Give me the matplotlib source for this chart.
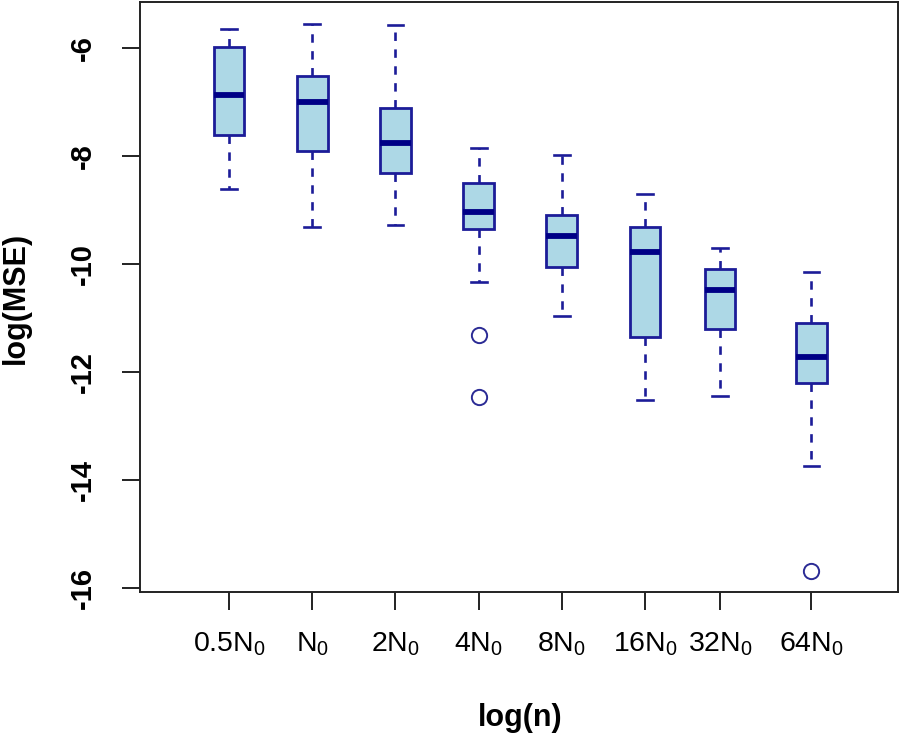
import matplotlib
matplotlib.use("Agg")
import matplotlib.pyplot as plt

plt.rcParams['font.family'] = ['Liberation Sans', 'DejaVu Sans']
plt.rcParams['mathtext.fontset'] = 'custom'
plt.rcParams['mathtext.rm'] = 'Liberation Sans'
plt.rcParams['mathtext.it'] = 'Liberation Sans'

labels = [r'0.5N$_0$', r'N$_0$', r'2N$_0$', r'4N$_0$', r'8N$_0$', r'16N$_0$', r'32N$_0$', r'64N$_0$']
positions = [1, 2, 3, 4, 5, 6, 6.9, 8]
whislo = [-8.60, -9.30, -9.27, -10.33, -10.96, -12.51, -12.44, -13.73]
q1 = [-7.61, -7.90, -8.30, -9.35, -10.04, -11.35, -11.19, -12.20]
med = [-6.86, -7.00, -7.76, -9.03, -9.47, -9.77, -10.48, -11.71]
q3 = [-5.98, -6.52, -7.11, -8.49, -9.09, -9.31, -10.09, -11.08]
whishi = [-5.64, -5.54, -5.56, -7.84, -7.98, -8.70, -9.70, -10.15]
fliers = [[], [], [], [-11.30, -12.46], [], [], [], [-15.68]]
yticks = [-6, -8, -10, -12, -14, -16]

stats = []
for i in range(len(labels)):
    stats.append(dict(label=labels[i], whislo=whislo[i], q1=q1[i], med=med[i],
                      q3=q3[i], whishi=whishi[i], fliers=fliers[i]))

fig = plt.figure(figsize=(9, 7.39), dpi=100)
ax = fig.add_axes([140/900, 1-592/739, (898-140)/900, (592-2)/739])

edge = '#1c1c98'
ax.bxp(stats, positions=positions, widths=0.37, capwidths=0.19, patch_artist=True,
       boxprops=dict(facecolor='#ADD8E6', edgecolor=edge, linewidth=2.0),
       medianprops=dict(color='#000086', linewidth=4.2, solid_capstyle='butt'),
       whiskerprops=dict(color=edge, linewidth=1.9, linestyle=(0, (3.2, 3.2))),
       capprops=dict(color=edge, linewidth=1.9),
       flierprops=dict(marker='o', markerfacecolor='none', markeredgecolor='#2b2b95',
                       markersize=11, markeredgewidth=1.4, linestyle='none'))

ax.set_xlim(-0.07, 9.04)
ax.set_ylim(-16.07, -5.14)
ax.set_yticks(yticks)
ax.set_yticklabels([str(v) for v in yticks], rotation=90, va='center',
                   fontsize=21, fontweight='bold')
ax.set_xticks(positions)
ax.set_xticklabels(labels, fontsize=20.5)
ax.tick_params(axis='both', length=13, width=1.4, color='#222222')
ax.tick_params(axis='y', pad=18)
ax.tick_params(axis='x', pad=15)
for s in ax.spines.values():
    s.set_linewidth(1.4)
    s.set_color('#222222')

fig.text(520/900, 1-718/739, 'log(n)', ha='center', va='center', fontsize=22, fontweight='bold')
fig.text(16/900, 1-298/739, 'log(MSE)', ha='center', va='center', rotation=90,
         fontsize=22, fontweight='bold')

fig.savefig('out.png', dpi=100)
